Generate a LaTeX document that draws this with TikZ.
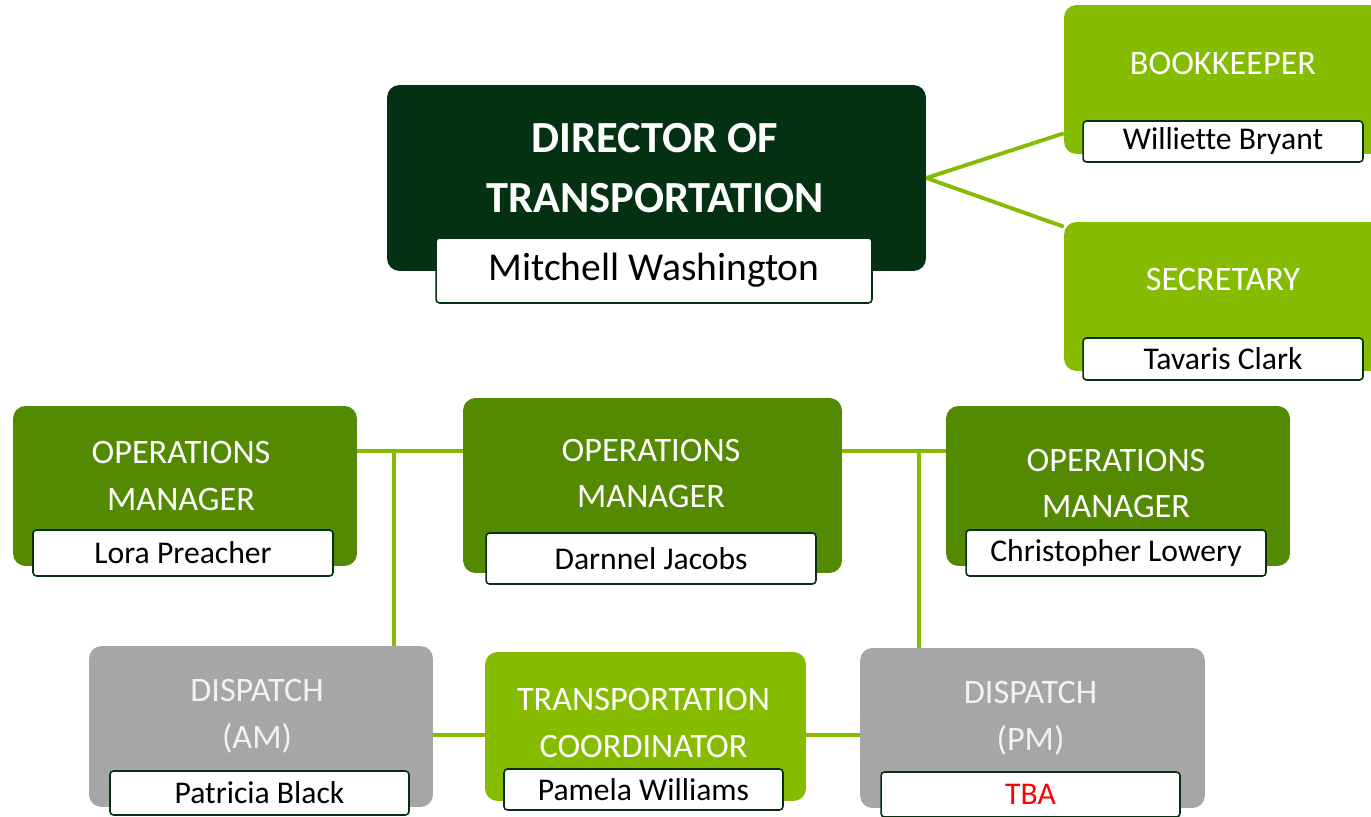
\documentclass[tikz,border=0pt]{standalone}
\usepackage{fontspec}
\setmainfont{Carlito}[Ligatures=CommonOff]
\usetikzlibrary{positioning,calc}

\definecolor{darkgreen}{RGB}{3,49,18}
\definecolor{midgreen}{RGB}{83,138,2}
\definecolor{lightgreen}{RGB}{134,188,0}
\definecolor{boxgrey}{RGB}{166,166,166}
\definecolor{greytext}{RGB}{242,242,242}

\tikzset{
  post/.style={rectangle, rounded corners=0.25cm, inner sep=0pt},
  title/.style={text=white, align=center, inner sep=0pt, font=\fontsize{19.5}{26.5}\selectfont},
  person/.style={rectangle, rounded corners=2pt, draw=darkgreen, line width=0.9pt,
    fill=white, inner sep=0pt, font=\fontsize{18}{21}\selectfont},
  link/.style={lightgreen, line width=2.2pt}
}

\begin{document}
\begin{tikzpicture}[x=0.02cm,y=-0.02cm]
      \useasboundingbox (0,0) rectangle (1371,817);
      \clip (0,0) rectangle (1371,817);
      % director
      \node[post, fill=darkgreen, minimum width=10.78cm, minimum height=3.72cm] (dir) at (656.5,178) {};
      \node[title, font=\fontsize{25.3}{34}\selectfont\bfseries] (dirtitle) at (655,168) {DIRECTOR OF\\TRANSPORTATION};
      \node[person, minimum width=8.72cm, minimum height=1.30cm, font=\fontsize{22.5}{26}\selectfont] (dirname) at (654,270.5) {Mitchell Washington};
      % staff on the right
      \node[post, fill=lightgreen, minimum width=6.36cm, minimum height=2.98cm] (bk) at (1223,79.5) {};
      \node[title] (bktitle) at (1223,64) {BOOKKEEPER};
      \node[person, minimum width=5.60cm, minimum height=0.82cm] (bkname) at (1223,141.5) {Williette Bryant};
      \node[post, fill=lightgreen, minimum width=6.36cm, minimum height=2.98cm] (sec) at (1223,296.5) {};
      \node[title] (sectitle) at (1223,280) {SECRETARY};
      \node[person, minimum width=5.60cm, minimum height=0.84cm] (secname) at (1223,359) {Tavaris Clark};
      % operations managers
      \node[post, fill=midgreen, minimum width=6.88cm, minimum height=3.20cm] (opl) at (185,486) {};
      \node[title] (opltitle) at (181,476) {OPERATIONS\\MANAGER};
      \node[person, minimum width=6.00cm, minimum height=0.92cm] (oplname) at (183,553) {Lora Preacher};
      \node[post, fill=midgreen, minimum width=7.58cm, minimum height=3.50cm] (opc) at (652.5,485.5) {};
      \node[title] (opctitle) at (651,473.5) {OPERATIONS\\MANAGER};
      \node[person, minimum width=6.60cm, minimum height=1.02cm] (opcname) at (651,558.5) {Darnnel Jacobs};
      \node[post, fill=midgreen, minimum width=6.88cm, minimum height=3.20cm] (opr) at (1118,486) {};
      \node[title] (oprtitle) at (1116,483.5) {OPERATIONS\\MANAGER};
      \node[person, minimum width=6.00cm, minimum height=0.92cm] (oprname) at (1116,553) {Christopher Lowery};
      % bottom row
      \node[post, fill=boxgrey, minimum width=6.88cm, minimum height=3.22cm] (dam) at (261,726.5) {};
      \node[title, text=greytext] (damtitle) at (257,716.5) {DISPATCH\\(AM)};
      \node[person, minimum width=5.98cm, minimum height=0.88cm] (damname) at (259.5,793) {Patricia Black};
      \node[post, fill=lightgreen, minimum width=6.42cm, minimum height=2.98cm] (tc) at (645.5,726.5) {};
      \node[title] (tctitle) at (643.5,723) {TRANSPORTATION\\COORDINATOR};
      \node[person, minimum width=5.58cm, minimum height=0.82cm] (tcname) at (643.5,789.5) {Pamela Williams};
      \node[post, fill=boxgrey, minimum width=6.90cm, minimum height=3.20cm] (dpm) at (1032.5,728) {};
      \node[title, text=greytext] (dpmtitle) at (1030.5,718.5) {DISPATCH\\(PM)};
      \node[person, minimum width=5.98cm, minimum height=0.90cm, text=red] (dpmname) at (1030.5,794.5) {TBA};
      % connectors
      \coordinate (hl) at (0,451);
      \coordinate (hb) at (0,735);
      \coordinate (vl) at (394,451);
      \coordinate (vr) at (919,451);
      \draw[link] (dir.east) -- ($(bk.south west)+(0,-21)$);
      \draw[link] (dir.east) -- ($(sec.north west)+(0,5)$);
      \draw[link] ($(dirname.south)+(-9,0)$) -- ($(dirname.south)+(-9,0)$ |- opc.north);
      \draw[link] (opl.east |- hl) -- (opc.west |- hl);
      \draw[link] (opc.east |- hl) -- (opr.west |- hl);
      \draw[link] (vl) -- (vl |- dam.north);
      \draw[link] (vr) -- (vr |- dpm.north);
      \draw[link] ($(opcname.south)+(-6,0)$) -- ($(opcname.south)+(-6,0)$ |- tc.north);
      \draw[link] (dam.east |- hb) -- (tc.west |- hb);
      \draw[link] (tc.east |- hb) -- (dpm.west |- hb);
\end{tikzpicture}
\end{document}
